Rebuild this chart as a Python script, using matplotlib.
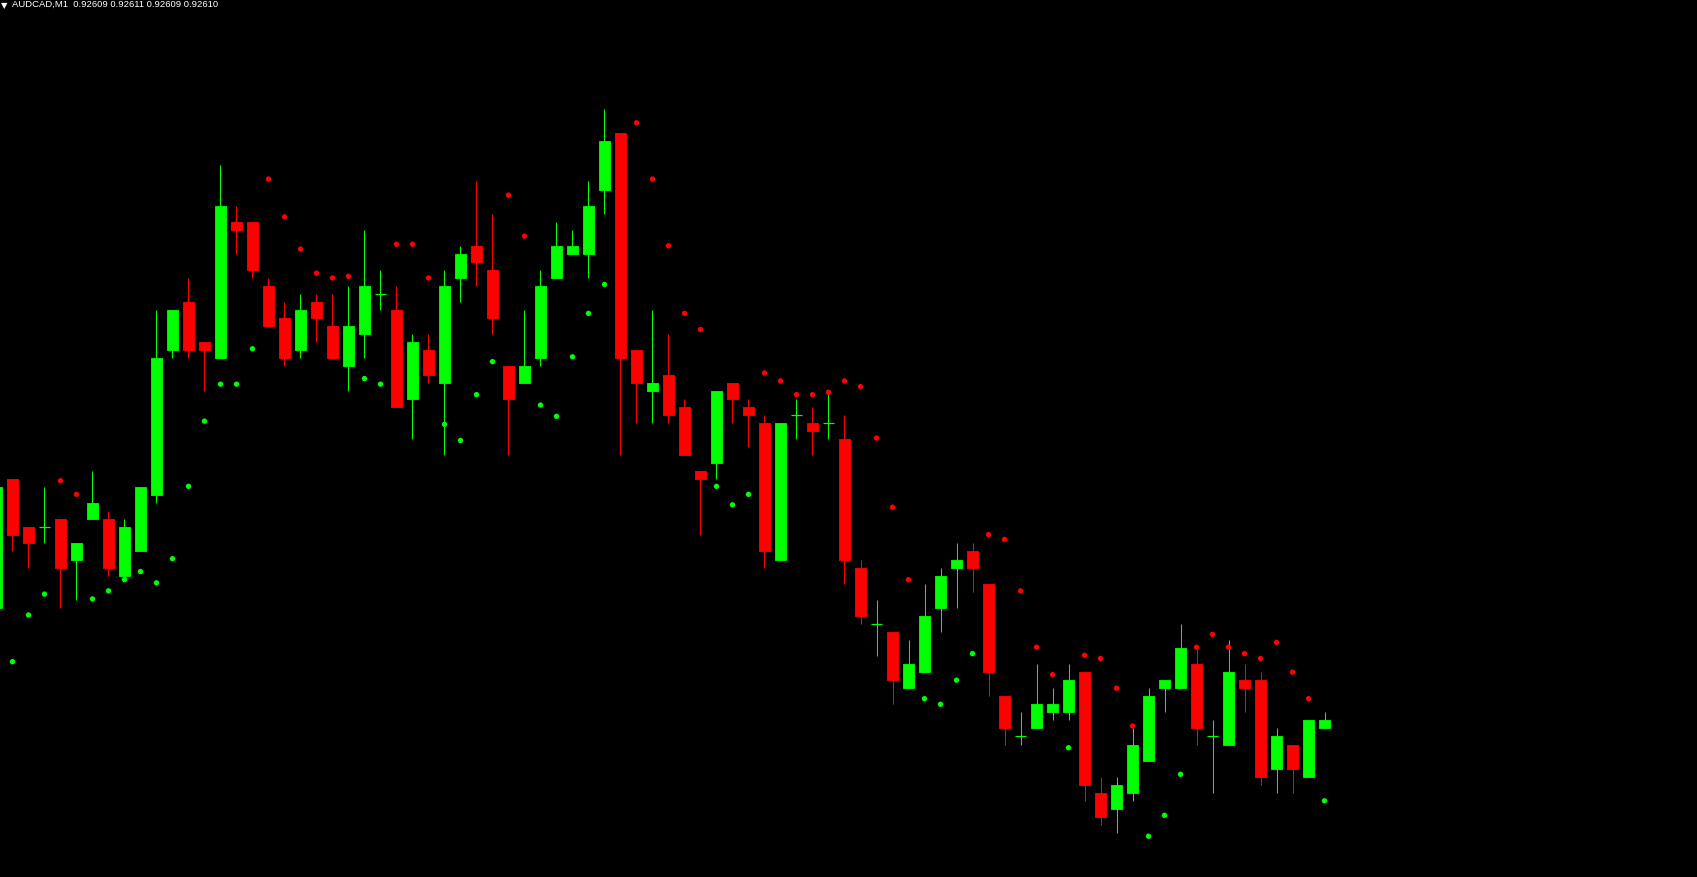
import matplotlib
matplotlib.use("Agg")
import matplotlib.pyplot as plt
import numpy as np

symbol_label = "AUDCAD,M1  0.92609 0.92611 0.92609 0.92610"

opens = [0.92624, 0.92640, 0.92634, 0.92634, 0.92635, 0.92630, 0.92635, 0.92635, 0.92628, 0.92631,
         0.92638, 0.92656, 0.92662, 0.92657, 0.92655, 0.92672, 0.92672, 0.92664, 0.92660, 0.92656,
         0.92662, 0.92659, 0.92654, 0.92658, 0.92663, 0.92661, 0.92650, 0.92656, 0.92652, 0.92665,
         0.92669, 0.92666, 0.92654, 0.92652, 0.92655, 0.92665, 0.92668, 0.92668, 0.92676, 0.92683,
         0.92656, 0.92651, 0.92653, 0.92649, 0.92641, 0.92642, 0.92652, 0.92649, 0.92647, 0.92630,
         0.92648, 0.92647, 0.92647, 0.92645, 0.92629, 0.92622, 0.92621, 0.92614, 0.92616, 0.92624,
         0.92629, 0.92631, 0.92627, 0.92613, 0.92608, 0.92609, 0.92611, 0.92611, 0.92616, 0.92601,
         0.92599, 0.92601, 0.92605, 0.92614, 0.92614, 0.92617, 0.92608, 0.92607, 0.92615, 0.92615,
         0.92604, 0.92607, 0.92603, 0.92609]
highs = [0.92639, 0.92640, 0.92634, 0.92639, 0.92635, 0.92632, 0.92641, 0.92636, 0.92635, 0.92639,
         0.92661, 0.92661, 0.92665, 0.92657, 0.92679, 0.92674, 0.92672, 0.92665, 0.92662, 0.92663,
         0.92663, 0.92663, 0.92664, 0.92671, 0.92666, 0.92664, 0.92658, 0.92658, 0.92666, 0.92669,
         0.92677, 0.92673, 0.92654, 0.92661, 0.92666, 0.92672, 0.92671, 0.92677, 0.92686, 0.92683,
         0.92656, 0.92661, 0.92658, 0.92650, 0.92641, 0.92651, 0.92652, 0.92650, 0.92648, 0.92647,
         0.92650, 0.92649, 0.92651, 0.92648, 0.92630, 0.92625, 0.92621, 0.92620, 0.92627, 0.92629,
         0.92632, 0.92632, 0.92627, 0.92613, 0.92611, 0.92617, 0.92614, 0.92617, 0.92616, 0.92603,
         0.92603, 0.92609, 0.92614, 0.92615, 0.92622, 0.92619, 0.92610, 0.92620, 0.92617, 0.92616,
         0.92609, 0.92607, 0.92610, 0.92611]
lows = [0.92624, 0.92631, 0.92629, 0.92632, 0.92624, 0.92625, 0.92635, 0.92628, 0.92628, 0.92631,
        0.92637, 0.92655, 0.92655, 0.92651, 0.92655, 0.92668, 0.92665, 0.92659, 0.92654, 0.92655,
        0.92657, 0.92655, 0.92651, 0.92655, 0.92661, 0.92649, 0.92645, 0.92652, 0.92643, 0.92662,
        0.92664, 0.92658, 0.92643, 0.92652, 0.92654, 0.92665, 0.92668, 0.92665, 0.92673, 0.92643,
        0.92647, 0.92647, 0.92647, 0.92643, 0.92633, 0.92640, 0.92647, 0.92644, 0.92629, 0.92630,
        0.92645, 0.92643, 0.92645, 0.92627, 0.92622, 0.92618, 0.92612, 0.92614, 0.92616, 0.92621,
        0.92624, 0.92626, 0.92613, 0.92607, 0.92607, 0.92609, 0.92610, 0.92610, 0.92600, 0.92597,
        0.92596, 0.92600, 0.92605, 0.92611, 0.92614, 0.92607, 0.92601, 0.92607, 0.92611, 0.92602,
        0.92601, 0.92601, 0.92603, 0.92609]
closes = [0.92639, 0.92633, 0.92632, 0.92634, 0.92629, 0.92632, 0.92637, 0.92629, 0.92634, 0.92639,
          0.92655, 0.92661, 0.92656, 0.92656, 0.92674, 0.92671, 0.92666, 0.92659, 0.92655, 0.92661,
          0.92660, 0.92655, 0.92659, 0.92664, 0.92663, 0.92649, 0.92657, 0.92653, 0.92664, 0.92668,
          0.92667, 0.92660, 0.92650, 0.92654, 0.92664, 0.92669, 0.92669, 0.92674, 0.92682, 0.92655,
          0.92652, 0.92652, 0.92648, 0.92643, 0.92640, 0.92651, 0.92650, 0.92648, 0.92631, 0.92647,
          0.92648, 0.92646, 0.92647, 0.92630, 0.92623, 0.92622, 0.92615, 0.92617, 0.92623, 0.92628,
          0.92630, 0.92629, 0.92616, 0.92609, 0.92608, 0.92612, 0.92612, 0.92615, 0.92602, 0.92598,
          0.92602, 0.92607, 0.92613, 0.92615, 0.92619, 0.92609, 0.92608, 0.92616, 0.92614, 0.92603,
          0.92608, 0.92604, 0.92610, 0.92610]
# parabolic SAR dots (None where no dot is visible)
sar = [None, 0.926173, 0.926231, 0.926257, 0.926398, 0.926381, 0.926251, 0.926261, 0.926275, 0.926285,
       0.926271, 0.926301, 0.926391, 0.926472, 0.926518, 0.926518, 0.926562, 0.926773, 0.926726, 0.926686,
       0.926656, 0.926650, 0.926652, 0.926525, 0.926518, 0.926692, 0.926692, 0.926650, 0.926468, 0.926448,
       0.926505, 0.926546, 0.926753, 0.926702, 0.926492, 0.926478, 0.926552, 0.926606, 0.926642, None,
       0.926843, 0.926773, 0.926690, 0.926606, 0.926586, 0.926391, 0.926368, 0.926381, 0.926532, 0.926522,
       0.926505, 0.926505, 0.926508, 0.926522, 0.926515, 0.926451, 0.926365, 0.926275, 0.926127, 0.926120,
       0.926150, 0.926183, 0.926331, 0.926325, 0.926261, 0.926191, 0.926157, 0.926066, 0.926181, 0.926177,
       0.926140, 0.926093, 0.925956, 0.925982, 0.926033, 0.926191, 0.926207, 0.926191, 0.926183, 0.926177,
       0.926197, 0.926160, 0.926127, 0.926000]

BULL = "#00FF00"
BEAR = "#FF0000"

fig = plt.figure(figsize=(16.97, 8.77), dpi=100, facecolor="black")
ax = fig.add_axes([0, 0, 1, 1], facecolor="black")

x = np.arange(len(opens))
o = np.array(opens)
c = np.array(closes)
h = np.array(highs)
l = np.array(lows)
body_w = 0.66

up = c > o
down = c < o
doji = c == o

# wicks
wick_col = np.where(c >= o, BULL, BEAR)
ax.vlines(x, l, h, colors=wick_col, linewidth=0.75, zorder=2)

# bodies
ax.bar(x[up], (c - o)[up], bottom=o[up], width=body_w, color=BULL,
       edgecolor=BULL, linewidth=0.6, zorder=3)
ax.bar(x[down], (o - c)[down], bottom=c[down], width=body_w, color=BEAR,
       edgecolor=BEAR, linewidth=0.6, zorder=3)
ax.hlines(o[doji], x[doji] - body_w / 2, x[doji] + body_w / 2, colors=BULL,
          linewidth=0.9, zorder=3)

# SAR dots
sx = np.array([i for i, v in enumerate(sar) if v is not None])
sy = np.array([v for v in sar if v is not None])
scol = np.where(sy > c[sx], BEAR, BULL)
ax.scatter(sx, sy, s=15, c=scol, linewidths=0, zorder=4)

ax.set_xlim(0.22, 106.28)
ax.set_ylim(0.92610 - 19.47e-5, 0.92610 + 89.56e-5)
ax.axis("off")

fig.text(1 / 1697, 1 - 8 / 877, "\u25bc", color="white", fontsize=6,
         ha="left", va="baseline", family="DejaVu Sans")
fig.text(12 / 1697, 1 - 7 / 877, symbol_label, color="white", fontsize=6.8,
         ha="left", va="baseline", family="Liberation Sans")

fig.savefig("out.png", dpi=100, facecolor="black")
